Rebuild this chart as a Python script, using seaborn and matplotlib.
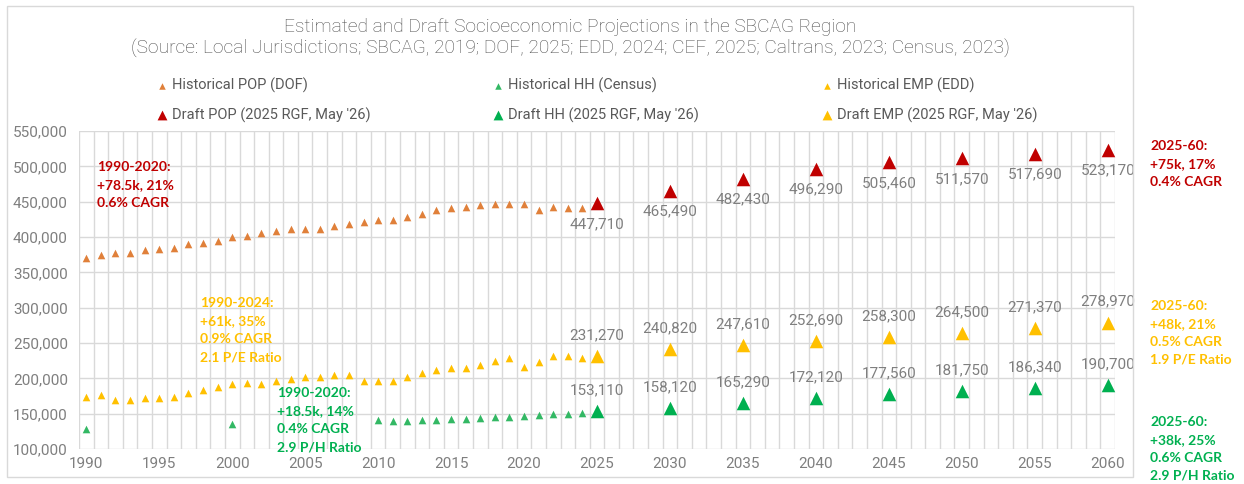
import numpy as np
import pandas as pd
import matplotlib.pyplot as plt
import seaborn as sns
from matplotlib.ticker import FuncFormatter

# historical estimates
hist_years = list(range(1990, 2025))
pop_hist = [369600, 374700, 378000, 378000, 381000, 383000, 385000, 390000, 391600, 395000,
            399300, 402000, 406000, 409000, 410700, 411700, 412000, 415400, 419000, 421500,
            423900, 424500, 429000, 433000, 438000, 441600, 443000, 444600, 446300, 446300,
            446500, 438000, 442500, 441000, 441600]
emp_hist = [173000, 175900, 169700, 169700, 171600, 171600, 173000, 179200, 183000, 187700,
            192400, 193400, 192400, 196200, 198600, 202400, 201400, 204300, 204700, 196700,
            196200, 196700, 201900, 208000, 212300, 215100, 215100, 218400, 224100, 228900,
            215600, 222700, 231200, 231200, 228900]
hh_years = [1990, 2000] + list(range(2010, 2025))
hh_hist = [128700, 135800, 140500, 139600, 139600, 141000, 141000, 142000, 142000, 143400,
           144800, 145300, 147200, 147600, 149000, 149500, 151000]

# draft projections (2025 RGF)
draft_years = [2025, 2030, 2035, 2040, 2045, 2050, 2055, 2060]
pop_draft = [447710, 465490, 482430, 496290, 505460, 511570, 517690, 523170]
emp_draft = [231270, 240820, 247610, 252690, 258300, 264500, 271370, 278970]
hh_draft = [153110, 158120, 165290, 172120, 177560, 181750, 186340, 190700]

title1 = 'Estimated and Draft Socioeconomic Projections in the SBCAG Region'
title2 = ('(Source: Local Jurisdictions; SBCAG, 2019; DOF, 2025; EDD, 2024; CEF, 2025; '
          'Caltrans, 2023; Census, 2023)')

RED, ORANGE, GREEN = '#C00000', '#FFC000', '#00B050'
HIST_POP, HIST_EMP, HIST_HH = '#E0803A', '#FFC000', '#33B864'
GRID = '#D9D9D9'
TXT = '#595959'
LBL = '#7F7F7F'

W, H = 1244, 484


def px(x, y):
    return x / W, 1 - y / H


sns.set_theme(style='white')
plt.rcParams['font.family'] = ['Roboto', 'DejaVu Sans']

fig = plt.figure(figsize=(W / 100, H / 100), dpi=100)
ax = fig.add_axes([79 / W, 1 - 449 / H, (1115 - 79) / W, (449 - 131) / H])

small, big = 30, 95
series = [
    (hist_years, pop_hist, HIST_POP, small, 'Historical POP (DOF)'),
    (draft_years, pop_draft, RED, big, "Draft POP (2025 RGF, May '26)"),
    (hh_years, hh_hist, HIST_HH, small, 'Historical HH (Census)'),
    (draft_years, hh_draft, GREEN, big, "Draft HH (2025 RGF, May '26)"),
    (hist_years, emp_hist, HIST_EMP, small, 'Historical EMP (EDD)'),
    (draft_years, emp_draft, ORANGE, big, "Draft EMP (2025 RGF, May '26)"),
]
for xs, ys, col, size, name in series:
    sns.scatterplot(x=xs, y=ys, marker='^', s=size, color=col, linewidth=0,
                    label=name, ax=ax, zorder=3)

ax.set_xlim(1989.5, 2060.5)
ax.set_ylim(100000, 550000)
ax.set_xticks(range(1990, 2061, 5))
ax.set_xticks(np.arange(1989.5, 2061, 1), minor=True)
ax.set_yticks(range(100000, 550001, 50000))
ax.yaxis.set_major_formatter(FuncFormatter(lambda v, p: f'{v:,.0f}'))
ax.grid(which='minor', axis='x', color=GRID, lw=1)
ax.grid(which='major', axis='y', color=GRID, lw=1)
ax.grid(which='major', axis='x', visible=False)
ax.set_axisbelow(True)
ax.tick_params(which='both', length=0, labelsize=11, labelcolor=LBL)
ax.tick_params(axis='y', pad=8)
ax.tick_params(axis='x', pad=6)
for s in ax.spines.values():
    s.set_visible(False)

# value labels on the draft points
for yr, v in zip(draft_years, pop_draft):
    ax.annotate(f'{v:,}', (yr, v), xytext=(0, -15), textcoords='offset points',
                ha='center', va='center', fontsize=11, color=LBL)
for vals in (emp_draft, hh_draft):
    for yr, v in zip(draft_years, vals):
        ax.annotate(f'{v:,}', (yr, v), xytext=(0, 15), textcoords='offset points',
                    ha='center', va='center', fontsize=11, color=LBL)

leg = ax.legend(ncol=3, loc='upper left', bbox_to_anchor=px(156, 78),
                bbox_transform=fig.transFigure, frameon=False, fontsize=10.5,
                handlelength=0.8, handletextpad=0.3, columnspacing=8.35,
                labelspacing=0.95, borderpad=0, borderaxespad=0)
for t in leg.get_texts():
    t.set_color(TXT)
for i, h in enumerate(leg.legend_handles):
    h.set_sizes([22 if i % 2 == 0 else 50])

fig.text(*px(570, 27), title1, ha='center', va='center', fontsize=13.8,
         color='#4D4D4D', fontweight='light')
fig.text(*px(570, 49), title2, ha='center', va='center', fontsize=13.8,
         color='#4D4D4D', fontweight='light')

# growth notes
note = dict(fontsize=10, fontweight='bold', family=['Lato', 'DejaVu Sans'],
            va='center', ha='left', linespacing=1.6)
fig.text(*px(97, 185), '1990-2020:\n+78.5k, 21%\n0.6% CAGR', color=RED, **note)
fig.text(*px(200, 330), '1990-2024:\n+61k, 35%\n0.9% CAGR\n2.1 P/E Ratio', color=ORANGE, **note)
fig.text(*px(277, 420), '1990-2020:\n+18.5k, 14%\n0.4% CAGR\n2.9 P/H Ratio', color=GREEN, **note)
fig.text(*px(1150, 164), '2025-60:\n+75k, 17%\n0.4% CAGR', color=RED, **note)
fig.text(*px(1150, 333), '2025-60:\n+48k, 21%\n0.5% CAGR\n1.9 P/E Ratio', color=ORANGE, **note)
fig.text(*px(1150, 449), '2025-60:\n+38k, 25%\n0.6% CAGR\n2.9 P/H Ratio', color=GREEN, **note)

fig.add_artist(plt.Rectangle(px(7, 477), (1133 - 7) / W, (477 - 6) / H,
                             transform=fig.transFigure, fill=False,
                             edgecolor=GRID, lw=1))

fig.savefig('out.png', dpi=100)
